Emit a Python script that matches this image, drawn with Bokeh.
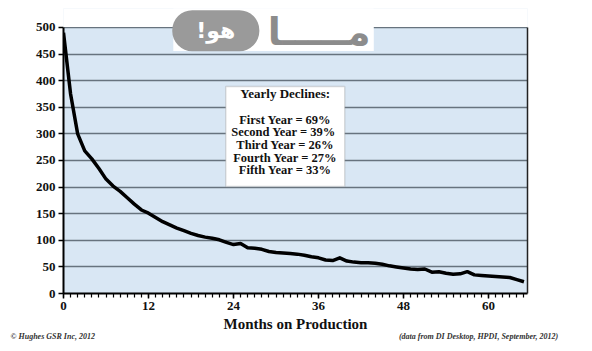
from bokeh.plotting import figure
from bokeh.models import Range1d, FixedTicker, Label, BoxAnnotation, LinearAxis, Title
from bokeh.embed import file_html
from bokeh.resources import INLINE

# ---- data ----
months = list(range(66))
production = [490, 375, 300, 268, 253, 235, 215, 202, 192, 180,
              168, 157, 151, 143, 135, 129, 123, 118, 113, 109,
              106, 104, 101, 96, 92, 94, 86, 85, 83, 79,
              77, 76, 75, 74, 72, 69, 67, 63, 62, 67,
              61, 59, 58, 58, 57, 55, 52, 50, 48, 46,
              45, 46, 40, 41, 38, 36, 37, 41, 35, 34,
              33, 32, 31, 30, 26, 22]
x_ticks = [0, 12, 24, 36, 48, 60]
y_ticks = [0, 50, 100, 150, 200, 250, 300, 350, 400, 450, 500]
box_title = "Yearly Declines:"
decline_lines = ["First Year = 69%", "Second Year =  39%", "Third Year = 26%",
                 "Fourth Year = 27%", "Fifth Year = 33%"]
x_title = "Months on Production"
credit_left = "\u00a9 Hughes GSR Inc, 2012"
credit_right = "(data from DI Desktop, HPDI, September, 2012)"

SERIF = "Liberation Serif"
Y_TOP = 500
Y_END = 535.7

p = figure(frame_width=464, frame_height=285,
           x_range=Range1d(0, 65.5), y_range=Range1d(0, Y_END),
           output_backend="svg", toolbar_location=None,
           min_border_left=63, min_border_right=65,
           min_border_top=8, min_border_bottom=58,
           background_fill_color="#d9e7f4", border_fill_color="white")

p.outline_line_color = None

p.xgrid.grid_line_color = None
p.ygrid.ticker = FixedTicker(ticks=y_ticks)
p.ygrid.grid_line_color = "#67737e"
p.ygrid.grid_line_width = 1.5

p.xaxis.ticker = FixedTicker(ticks=x_ticks, minor_ticks=months)
p.yaxis.ticker = FixedTicker(ticks=y_ticks)
p.yaxis.bounds = (0, Y_TOP)

p.xaxis.axis_line_color = "black"
p.yaxis.axis_line_color = "black"
p.xaxis.axis_line_width = 2
p.yaxis.axis_line_width = 2
p.xaxis.major_tick_line_color = "black"
p.yaxis.major_tick_line_color = "black"
p.xaxis.major_tick_line_width = 1.5
p.yaxis.major_tick_line_width = 1.5
p.xaxis.major_tick_in = 0
p.yaxis.major_tick_in = 0
p.xaxis.major_tick_out = 5
p.yaxis.major_tick_out = 5
p.xaxis.major_label_text_font = SERIF
p.yaxis.major_label_text_font = SERIF
p.xaxis.major_label_text_font_style = "bold"
p.yaxis.major_label_text_font_style = "bold"
p.xaxis.major_label_text_font_size = "13px"
p.yaxis.major_label_text_font_size = "13px"
p.xaxis.major_label_text_color = "#111111"
p.yaxis.major_label_text_color = "#111111"
p.yaxis.minor_tick_line_color = None
p.yaxis.major_label_standoff = 3
p.xaxis.minor_tick_line_color = "black"
p.xaxis.minor_tick_line_width = 1.2
p.xaxis.minor_tick_in = 0
p.xaxis.minor_tick_out = 4
p.xaxis.major_label_standoff = 3
p.xaxis.axis_label = x_title
p.xaxis.axis_label_text_font = SERIF
p.xaxis.axis_label_text_font_style = "bold"
p.xaxis.axis_label_text_font_size = "15px"
p.xaxis.axis_label_text_color = "#111111"
p.xaxis.axis_label_standoff = 3

# right border of the plotting area (no ticks, no labels)
right_border = LinearAxis(bounds=(0, Y_TOP), ticker=FixedTicker(ticks=[]),
                          axis_line_color="#222222", axis_line_width=1.5,
                          major_tick_line_color=None, minor_tick_line_color=None)
p.add_layout(right_border, "right")

# white area above the top of the chart
p.add_layout(BoxAnnotation(bottom=Y_TOP + 0.8, top=Y_END + 5, left=-1, right=66.5,
                           fill_color="white", fill_alpha=1.0,
                           line_color=None, level="annotation"))

p.line(months, production, line_color="black", line_width=3.5, line_join="round")

# text box
p.add_layout(BoxAnnotation(left=22.9, right=39.7, bottom=201, top=389,
                           fill_color="white", fill_alpha=1.0,
                           line_color="#8a8a8a", line_width=1.5))
p.add_layout(Label(x=31.3, y=376, text=box_title, text_align="center",
                   text_baseline="middle", text_font=SERIF, text_font_style="bold",
                   text_font_size="13px", text_color="#111111"))
line_ys = [326.5, 303.2, 279.5, 255.6, 232.5]
for ty, t in zip(line_ys, decline_lines):
    p.add_layout(Label(x=31.3, y=ty, text=t, text_align="center",
                       text_baseline="middle", text_font=SERIF, text_font_style="bold",
                       text_font_size="12.5px", text_color="#111111"))

# credits line under the chart
gap = "\u00a0" * 152
p.add_layout(Title(text=credit_left + gap + credit_right, align="left", offset=-53,
                   text_font=SERIF, text_font_style="bold italic",
                   text_font_size="8px", text_color="#333333", standoff=-13), "below")

# watermark overlay
p.add_layout(BoxAnnotation(left=15.5, right=43.8, bottom=456, top=Y_END + 5,
                           fill_color="white", fill_alpha=1.0, line_color=None))
p.add_layout(Label(x=21.5, y=494, text="!\u0647\u0648", text_align="center",
                   text_baseline="middle", text_font="DejaVu Sans", text_font_style="bold",
                   text_font_size="22px", text_color="white",
                   background_fill_color="#9a9a9a", border_radius=20,
                   padding=(24, 8)))
p.add_layout(Label(x=36.1, y=492, text="\u0645\u0640\u0640\u0640\u0640\u0640\u0627",
                   text_align="center", text_baseline="middle",
                   text_font="DejaVu Sans", text_font_style="bold",
                   text_font_size="38px", text_color="#8c8c8c"))

open("out.html", "w").write(file_html(p, INLINE))
